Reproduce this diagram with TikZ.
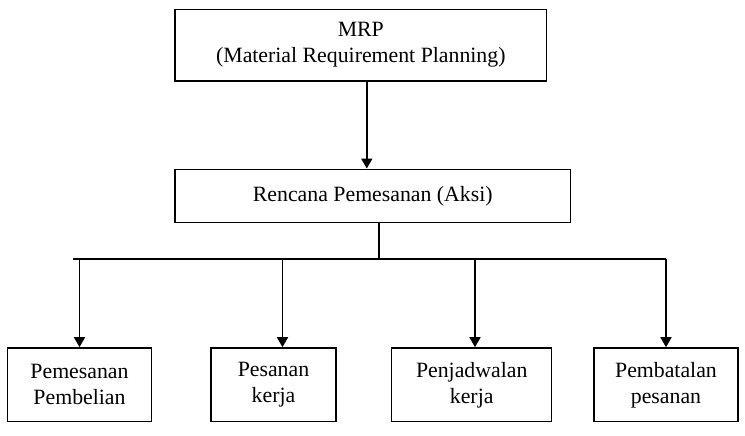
\documentclass[tikz,border=0pt]{standalone}
\usepackage{fontspec}
\setmainfont{Liberation Serif}
\usetikzlibrary{arrows.meta, positioning}

\begin{document}
\begin{tikzpicture}[
  x=1pt, y=-1pt,
  box/.style = {draw, rectangle, line width=1.5pt,
                align=center, inner sep=0pt,
                font=\fontsize{21.8}{26}\selectfont},
  arr/.style = {-{Triangle[length=10pt, width=11pt]}, line width=1.6pt},
  bus/.style = {line width=1.6pt},
]
\useasboundingbox (0,0) rectangle (745,436);

%-- Boxes (top to bottom) ----------------------------------------------
\node[box, minimum width=371.7pt, minimum height=71.7pt] (mrp) at (360.8,45.2)
  {MRP\\(Material Requirement Planning)};

\node[box, minimum width=395.7pt, minimum height=53.4pt] (rencana) at (372.8,196)
  {Rencana Pemesanan (Aksi)};

%-- Bottom row ---------------------------------------------------------
\node[box, minimum width=144.4pt, minimum height=73.7pt] (beli)  at (79.5,384.8)
  {Pemesanan\\Pembelian};
\node[box, minimum width=125pt,   minimum height=73.7pt] (kerja) at (273.5,384.8)
  {Pesanan\\kerja};
\node[box, minimum width=160pt,   minimum height=73.7pt] (jadwal) at (471.7,384.8)
  {Penjadwalan\\kerja};
\node[box, minimum width=144pt,   minimum height=73.7pt] (batal) at (666,384.8)
  {Pembatalan\\pesanan};

%-- Bus line -----------------------------------------------------------
\coordinate (split) at (379,259);
\coordinate (busl)  at (72.7,259);

%-- Arrows -------------------------------------------------------------
\draw[arr] ([xshift=6pt]mrp.south) -- ([xshift=6pt]mrp.south |- rencana.north);
\draw[bus] (rencana.south -| split) -- (split);
\draw[bus] (busl) -- (split -| batal);

\draw[arr] (split -| 79.5,0)  -- (beli.north -| 79.5,0);
\draw[arr] (split -| 282.5,0) -- (kerja.north -| 282.5,0);
\draw[arr] (split -| 475,0)   -- (jadwal.north -| 475,0);
\draw[arr] (split -| batal)   -- (batal.north);

\end{tikzpicture}
\end{document}
